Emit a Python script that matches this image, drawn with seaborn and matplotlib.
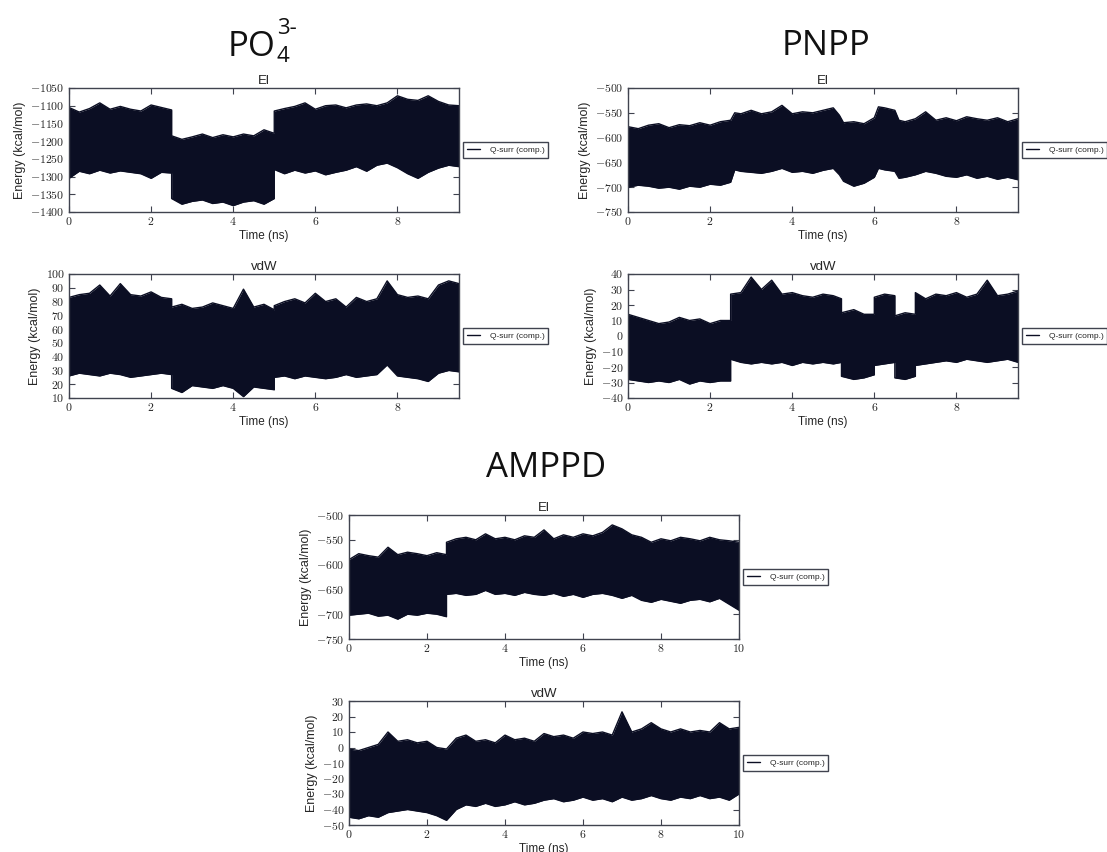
import matplotlib
matplotlib.use("Agg")
import pandas as pd
import matplotlib.pyplot as plt
import seaborn as sns
from matplotlib.ticker import FuncFormatter, MultipleLocator

# ---- data: upper / lower envelope of each energy trace ----
# PO4(3-) electrostatic
t_po4_el = [0, .25, .5, .75, 1, 1.25, 1.5, 1.75, 2, 2.25, 2.5,
            2.5, 2.75, 3, 3.25, 3.5, 3.75, 4, 4.25, 4.5, 4.75, 5,
            5, 5.25, 5.5, 5.75, 6, 6.25, 6.5, 6.75, 7, 7.25, 7.5, 7.75, 8, 8.25, 8.5, 8.75, 9, 9.25, 9.5]
hi_po4_el = [-1105, -1118, -1108, -1092, -1110, -1102, -1110, -1115, -1098, -1105, -1112,
             -1185, -1195, -1188, -1180, -1190, -1182, -1188, -1180, -1185, -1168, -1178,
             -1115, -1108, -1102, -1092, -1110, -1100, -1098, -1106, -1098, -1095, -1100, -1092, -1072, -1082, -1085, -1072, -1088, -1098, -1100]
lo_po4_el = [-1305, -1285, -1292, -1282, -1290, -1284, -1288, -1292, -1305, -1288, -1290,
             -1362, -1378, -1370, -1366, -1376, -1372, -1382, -1372, -1368, -1378, -1362,
             -1280, -1292, -1282, -1290, -1284, -1295, -1288, -1282, -1272, -1285, -1268, -1262, -1275, -1292, -1305, -1288, -1276, -1268, -1272]

# PO4(3-) van der Waals
t_po4_vdw = t_po4_el
hi_po4_vdw = [83, 85, 86, 92, 84, 93, 85, 84, 87, 83, 82,
              76, 78, 75, 76, 79, 77, 75, 89, 76, 78, 74,
              77, 80, 82, 79, 86, 80, 82, 76, 83, 80, 82, 95, 85, 83, 84, 82, 92, 95, 93]
lo_po4_vdw = [26, 28, 27, 26, 28, 27, 25, 26, 27, 28, 27,
              17, 14, 19, 18, 17, 19, 17, 11, 18, 17, 16,
              25, 26, 24, 26, 25, 24, 25, 27, 25, 26, 27, 34, 26, 25, 24, 22, 28, 30, 29]

# PNPP electrostatic
t_pnpp_el = [0, .25, .5, .75, 1, 1.25, 1.5, 1.75, 2, 2.25, 2.5,
             2.6, 2.75, 3, 3.25, 3.5, 3.75, 4, 4.25, 4.5, 4.75, 5,
             5.15, 5.25, 5.5, 5.75, 6,
             6.1, 6.25, 6.5,
             6.6, 6.75, 7, 7.25, 7.5, 7.75, 8, 8.25, 8.5, 8.75, 9, 9.25, 9.5]
hi_pnpp_el = [-578, -582, -575, -572, -580, -574, -576, -570, -575, -568, -565,
              -550, -552, -545, -552, -548, -535, -552, -548, -550, -545, -540,
              -555, -570, -568, -572, -560,
              -538, -540, -545,
              -565, -568, -562, -548, -565, -560, -566, -558, -562, -565, -560, -568, -562]
lo_pnpp_el = [-700, -696, -698, -702, -700, -704, -698, -700, -694, -696, -690,
              -665, -668, -670, -672, -668, -662, -670, -668, -672, -666, -662,
              -675, -688, -698, -692, -680,
              -662, -665, -668,
              -682, -680, -675, -668, -672, -678, -680, -675, -682, -678, -684, -680, -685]

# PNPP van der Waals
t_pnpp_vdw = [0, .25, .5, .75, 1, 1.25, 1.5, 1.75, 2, 2.25, 2.5,
              2.5, 2.75, 3, 3.25, 3.5, 3.75, 4, 4.25, 4.5, 4.75, 5, 5.2,
              5.2, 5.5, 5.75, 6,
              6, 6.25, 6.5,
              6.5, 6.75, 7,
              7, 7.25, 7.5, 7.75, 8, 8.25, 8.5, 8.75, 9, 9.25, 9.5]
hi_pnpp_vdw = [14, 12, 10, 8, 9, 12, 10, 11, 8, 10, 10,
               27, 28, 38, 30, 36, 27, 28, 26, 25, 27, 26, 24,
               15, 17, 14, 14,
               25, 27, 26,
               13, 15, 14,
               28, 24, 27, 26, 28, 25, 27, 36, 26, 27, 29]
lo_pnpp_vdw = [-28, -29, -30, -29, -30, -28, -31, -29, -30, -29, -29,
               -15, -17, -18, -17, -18, -17, -19, -17, -18, -17, -18, -17,
               -26, -28, -27, -25,
               -19, -18, -17,
               -27, -28, -26,
               -19, -18, -17, -16, -17, -15, -16, -17, -16, -15, -17]

# AMPPD electrostatic
t_amppd_el = [0, .25, .5, .75, 1, 1.25, 1.5, 1.75, 2, 2.25, 2.5,
              2.5, 2.75, 3, 3.25, 3.5, 3.75, 4, 4.25, 4.5, 4.75, 5, 5.25, 5.5, 5.75, 6, 6.25,
              6.5, 6.75, 7, 7.25, 7.5, 7.75, 8, 8.25, 8.5, 8.75, 9, 9.25, 9.5, 9.75, 10]
hi_amppd_el = [-590, -578, -582, -585, -565, -580, -575, -578, -582, -576, -580,
               -555, -548, -545, -550, -538, -548, -545, -550, -542, -545, -530, -548, -540, -545, -538, -542,
               -535, -520, -528, -540, -545, -555, -548, -552, -545, -548, -552, -545, -550, -552, -555]
lo_amppd_el = [-702, -700, -698, -704, -702, -710, -700, -702, -698, -700, -705,
               -660, -658, -662, -660, -652, -660, -658, -662, -656, -660, -662, -658, -664, -660, -666, -660,
               -658, -662, -668, -662, -672, -676, -670, -674, -678, -672, -670, -675, -668, -680, -692]

# AMPPD van der Waals
t_amppd_vdw = [0, .25, .5, .75, 1, 1.25, 1.5, 1.75, 2, 2.25, 2.5, 2.75, 3, 3.25, 3.5, 3.75, 4,
               4.25, 4.5, 4.75, 5, 5.25, 5.5, 5.75, 6, 6.25, 6.5, 6.75, 7, 7.25, 7.5, 7.75, 8,
               8.25, 8.5, 8.75, 9, 9.25, 9.5, 9.75, 10]
hi_amppd_vdw = [-1, -2, 0, 2, 10, 4, 5, 3, 4, 0, -1, 6, 8, 4, 5, 3, 8,
                5, 6, 4, 9, 7, 8, 6, 10, 9, 10, 8, 23, 10, 12, 16, 12,
                10, 12, 10, 11, 10, 16, 12, 13]
lo_amppd_vdw = [-45, -46, -44, -45, -42, -41, -40, -41, -42, -44, -47, -40, -37, -38, -36, -38, -37,
                -35, -37, -36, -34, -33, -35, -34, -32, -34, -33, -35, -32, -34, -33, -31, -33,
                -34, -32, -33, -31, -33, -32, -34, -30]

# ---- layout (pixel boxes of each panel: left, top, right, bottom) ----
W, H = 1107, 852
panels = [
    ("El", t_po4_el, hi_po4_el, lo_po4_el, (69, 88, 459, 212), (0, 9.5), (-1400, -1050), 50),
    ("vdW", t_po4_vdw, hi_po4_vdw, lo_po4_vdw, (69, 274, 459, 398), (0, 9.5), (10, 100), 10),
    ("El", t_pnpp_el, hi_pnpp_el, lo_pnpp_el, (628, 88, 1018, 212), (0, 9.5), (-750, -500), 50),
    ("vdW", t_pnpp_vdw, hi_pnpp_vdw, lo_pnpp_vdw, (628, 274, 1018, 398), (0, 9.5), (-40, 40), 10),
    ("El", t_amppd_el, hi_amppd_el, lo_amppd_el, (349, 515, 739, 639), (0, 10), (-750, -500), 50),
    ("vdW", t_amppd_vdw, hi_amppd_vdw, lo_amppd_vdw, (349, 701, 739, 825), (0, 10), (-50, 30), 10),
]

sns.set_style("ticks")
plt.rcParams['font.family'] = ['Liberation Sans', 'DejaVu Sans']
plt.rcParams['mathtext.fontset'] = 'cm'

line_c = '#0b0e23'
frame_c = '#40434f'

fig = plt.figure(figsize=(W / 100, H / 100), dpi=100)

for title, t, hi, lo, box, xl, yl, ystep in panels:
    l, tp, r, b = box
    ax = fig.add_axes([l / W, 1 - b / H, (r - l) / W, (b - tp) / H])
    df = pd.DataFrame({"t": t, "hi": hi, "lo": lo})
    ax.fill_between(df["t"], df["lo"], df["hi"], color=line_c, lw=0)
    sns.lineplot(data=df, x="t", y="hi", ax=ax, color=line_c, lw=1.0,
                 estimator=None, sort=False, label="Q-surr (comp.)")
    sns.lineplot(data=df, x="t", y="lo", ax=ax, color=line_c, lw=1.0,
                 estimator=None, sort=False, legend=False)
    ax.set_xlim(*xl)
    ax.set_ylim(*yl)
    ax.xaxis.set_major_locator(MultipleLocator(2))
    ax.yaxis.set_major_locator(MultipleLocator(ystep))
    fmt = FuncFormatter(lambda v, p: r'$%d$' % round(v))
    ax.xaxis.set_major_formatter(fmt)
    ax.yaxis.set_major_formatter(fmt)
    ax.tick_params(direction='in', top=True, right=True, length=4, width=0.8,
                   color=frame_c, labelsize=8.5, pad=3)
    for s in ax.spines.values():
        s.set_color(frame_c)
        s.set_linewidth(1.0)
    ax.set_title(title, fontsize=9.5, pad=3)
    ax.set_xlabel("Time (ns)", fontsize=8.5, labelpad=1)
    ax.set_ylabel("Energy (kcal/mol)", fontsize=9, labelpad=3)
    leg = ax.legend(loc='center left', bbox_to_anchor=(1.01, 0.5), borderaxespad=0,
                    fontsize=6, fancybox=False, edgecolor=frame_c, framealpha=1,
                    handlelength=1.6, borderpad=0.45, handletextpad=1.2)
    leg.get_frame().set_linewidth(1.0)

# group titles
big = dict(family='Open Sans', color='#111111')
fig.text(826 / W, 1 - 46 / H, 'PNPP', fontsize=25, ha='center', va='center', **big)
fig.text(546 / W, 1 - 468 / H, 'AMPPD', fontsize=25, ha='center', va='center', **big)

# PO4(3-): base text, then subscript and superscript placed next to it
po = fig.text(228 / W, 1 - 56 / H, 'PO', fontsize=25, ha='left', va='baseline', **big)
fig.canvas.draw()
x_end = po.get_window_extent().x1 / W
fig.text(x_end + 1 / W, 1 - 62 / H, '4', fontsize=16, ha='left', va='baseline', **big)
fig.text(x_end + 1 / W, 1 - 34 / H, '3-', fontsize=16, ha='left', va='baseline', **big)

fig.savefig("out.png", dpi=100)
